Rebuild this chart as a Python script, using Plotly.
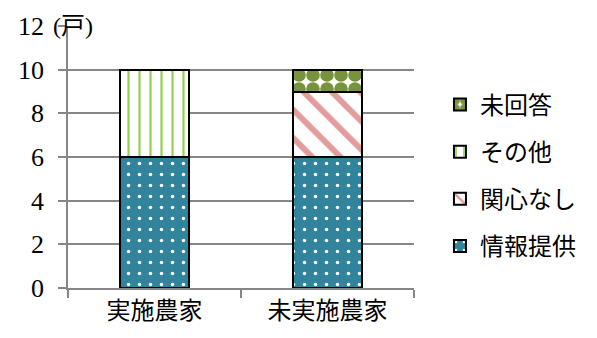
import plotly.graph_objects as go

categories = ["実施農家", "未実施農家"]
series_names = ["情報提供", "関心なし", "その他", "未回答"]
info_vals = [6, 6]
nointerest_vals = [None, 3]
other_vals = [4, None]
noanswer_vals = [None, 1]
y_ticks = [0, 2, 4, 6, 8, 10, 12]
unit_label = "(戸)"

FONT = "Liberation Serif"
CJK = "Noto Sans CJK JP"

styles = {
    "情報提供": dict(shape=".", bgcolor="#31849B", fgcolor="#FFFFFF", size=11, solidity=0.08),
    "関心なし": dict(shape="\\", bgcolor="#FFFFFF", fgcolor="#E29C9C", size=20, solidity=0.3),
    "その他": dict(shape="|", bgcolor="#FFFFFF", fgcolor="#92D050", size=11, solidity=0.2),
    "未回答": dict(shape=".", bgcolor="#FFFFFF", fgcolor="#77933C", size=14, solidity=0.75),
}
values = {
    "情報提供": info_vals,
    "関心なし": nointerest_vals,
    "その他": other_vals,
    "未回答": noanswer_vals,
}
ranks = {"未回答": 1, "その他": 2, "関心なし": 3, "情報提供": 4}

fig = go.Figure()
for name in series_names:
    st = styles[name]
    fig.add_trace(go.Bar(
        x=categories, y=values[name], name=name, legendgroup=name, legendrank=ranks[name],
        marker=dict(color=st["bgcolor"], line=dict(color="#000000", width=2),
                    pattern=dict(shape=st["shape"], fgcolor=st["fgcolor"], bgcolor=st["bgcolor"],
                                 size=st["size"], solidity=st["solidity"], fillmode="replace")),
        width=0.4,
    ))

fig.update_layout(
    barmode="stack",
    width=597, height=338,
    margin=dict(l=68, r=183, t=23, b=48),
    plot_bgcolor="#FFFFFF", paper_bgcolor="#FFFFFF",
    font=dict(family=CJK, size=24, color="#000000"),
    showlegend=True,
    legend=dict(traceorder="grouped", tracegroupgap=13, x=1.075, xanchor="left",
                y=0.43, yanchor="middle", font=dict(size=24, family=CJK), bgcolor="rgba(0,0,0,0)"),
    xaxis=dict(showline=True, linecolor="#868686", linewidth=1.5, ticks="outside", tickson="boundaries",
               ticklen=8, tickcolor="#868686", tickwidth=1.5, showgrid=False,
               tickfont=dict(size=24, family=CJK)),
    yaxis=dict(range=[0, 12], tickvals=y_ticks, showline=True, linecolor="#868686", linewidth=1.5,
               ticks="outside", ticklen=8, tickcolor="#868686", tickwidth=1.5,
               showgrid=True, gridcolor="#868686", gridwidth=1.5, zeroline=False,
               ticklabelstandoff=9, tickfont=dict(size=26, family=FONT)),
    annotations=[dict(text=unit_label, xref="paper", yref="paper", x=-0.048, y=1.0,
                      xanchor="left", yanchor="middle", showarrow=False,
                      font=dict(size=24, family=FONT + ", " + CJK))],
)

fig.write_html("out.html")
